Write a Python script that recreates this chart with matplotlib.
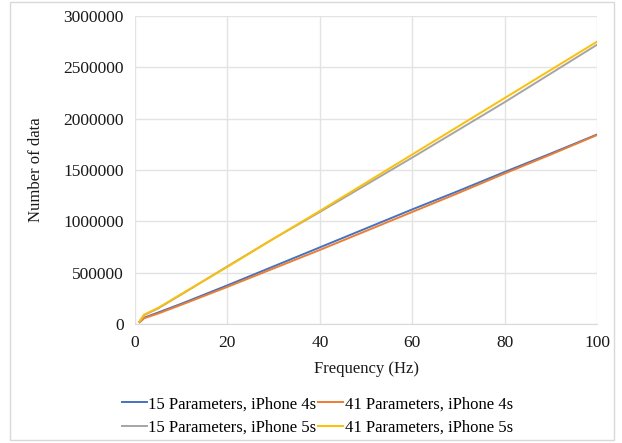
import matplotlib.pyplot as plt
from matplotlib.patches import Rectangle

# data
freq = [1, 2, 5, 10, 20, 30, 40, 50, 60, 70, 80, 90, 100]
p15_4s = [20000, 60000, 110000, 195000, 375000, 560000, 745000, 930000,
          1115000, 1295000, 1480000, 1660000, 1845000]
p41_4s = [15000, 55000, 100000, 185000, 360000, 540000, 720000, 905000,
          1090000, 1275000, 1465000, 1650000, 1840000]
p15_5s = [25000, 85000, 150000, 285000, 560000, 830000, 1090000, 1355000,
          1620000, 1890000, 2160000, 2440000, 2720000]
p41_5s = [25000, 90000, 155000, 290000, 555000, 830000, 1100000, 1375000,
          1650000, 1925000, 2200000, 2475000, 2750000]

plt.rcParams["font.family"] = ["Liberation Serif", "DejaVu Serif"]

fig = plt.figure(figsize=(6.22, 4.43), dpi=100)
ax = fig.add_axes([0.217, 0.269, 0.743, 0.695])

l1, = ax.plot(freq, p15_4s, color="#4472C4", linewidth=1.4, label="15 Parameters, iPhone 4s")
l2, = ax.plot(freq, p41_4s, color="#ED7D31", linewidth=1.4, label="41 Parameters, iPhone 4s")
l3, = ax.plot(freq, p15_5s, color="#A5A5A5", linewidth=1.4, label="15 Parameters, iPhone 5s")
l4, = ax.plot(freq, p41_5s, color="#FFC000", linewidth=1.4, label="41 Parameters, iPhone 5s")

ax.set_xlim(0, 100)
ax.set_ylim(0, 3000000)
ax.set_xticks(range(0, 101, 20))
ax.set_yticks(range(0, 3000001, 500000))
ax.ticklabel_format(style="plain", axis="y")
ax.grid(True, color="#E3E3E3", linewidth=1)
ax.set_axisbelow(True)
for side in ["top", "right", "left"]:
    ax.spines[side].set_visible(False)
ax.spines["bottom"].set_color("#D9D9D9")
ax.tick_params(length=0, labelsize=12.5, pad=8, colors="#1a1a1a")

ax.set_xlabel("Frequency (Hz)", fontsize=12, color="#1a1a1a", labelpad=7)
ax.set_ylabel("Number of data", fontsize=12, color="#1a1a1a", labelpad=14)

# legend filled row by row like the original
handles = [l1, l3, l2, l4]
fig.legend(handles, [h.get_label() for h in handles], loc="center",
           bbox_to_anchor=(0.51, 0.061), ncol=2, frameon=False,
           fontsize=12, handlelength=1.5, handletextpad=0.1, columnspacing=0.1,
           labelspacing=0.45)

fig.patches.append(Rectangle((0.016, 0.007), 0.971, 0.988, transform=fig.transFigure,
                             fill=False, edgecolor="#D9D9D9", linewidth=1))

fig.savefig("out.png", dpi=100)
